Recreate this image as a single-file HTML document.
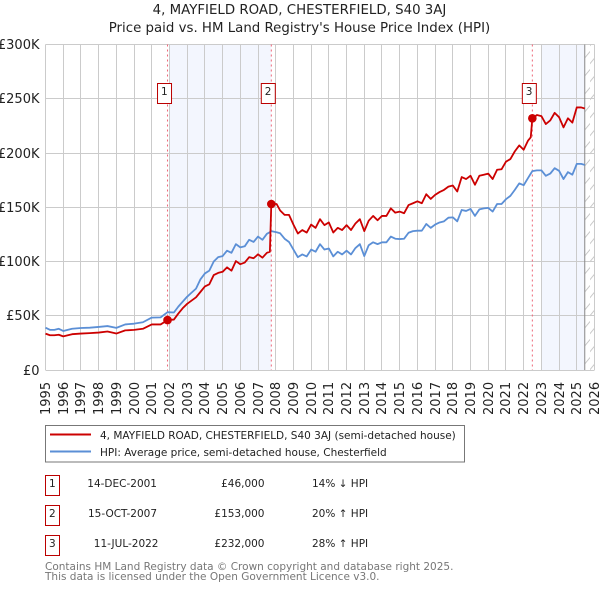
<!DOCTYPE html>
<html lang="en">
<head>
<meta charset="utf-8">
<title>4, MAYFIELD ROAD, CHESTERFIELD, S40 3AJ</title>
<style>
html,body{margin:0;padding:0;background:#fff;}
body{width:600px;height:590px;overflow:hidden;}
svg{display:block;font-family:"DejaVu Sans","Liberation Sans",sans-serif;}
</style>
</head>
<body>
<svg id="chart" xmlns="http://www.w3.org/2000/svg" width="600" height="590" viewBox="0 0 600 590">
  <defs>
    <pattern id="hatch" patternUnits="userSpaceOnUse" width="10" height="18">
      <path d="M-1 10.8 L11 -3.6 M-1 28.8 L11 14.4" stroke="#c8c8c8" stroke-width="1" fill="none"/>
    </pattern>
  </defs>
  <text x="299.5" y="14" text-anchor="middle" font-size="13.35" fill="#222">4, MAYFIELD ROAD, CHESTERFIELD, S40 3AJ</text>
  <text x="299.5" y="32" text-anchor="middle" font-size="13.35" fill="#222">Price paid vs. HM Land Registry's House Price Index (HPI)</text>
  <g id="plot"></g>

  <g>
    <rect x="45.5" y="425.5" width="419" height="36.5" fill="#fff" stroke="#777" stroke-width="1"/>
    <line x1="50" x2="91" y1="434.5" y2="434.5" stroke="#cc0000" stroke-width="2"/>
    <text x="100" y="439" font-size="10.5" fill="#222">4, MAYFIELD ROAD, CHESTERFIELD, S40 3AJ (semi-detached house)</text>
    <line x1="50" x2="91" y1="451.5" y2="451.5" stroke="#5b8fd6" stroke-width="2"/>
    <text x="100" y="456" font-size="10.5" fill="#222">HPI: Average price, semi-detached house, Chesterfield</text>
  </g>

  <g font-size="10.5" fill="#222">
    <rect x="45.5" y="475.5" width="14" height="20" fill="#fff" stroke="#bb0000"/>
    <text x="52.3" y="487" text-anchor="middle">1</text>
    <text x="157" y="487" text-anchor="end">14-DEC-2001</text>
    <text x="264.5" y="487" text-anchor="end">£46,000</text>
    <text x="312" y="487">14% ↓ HPI</text>

    <rect x="45.5" y="505.5" width="14" height="20" fill="#fff" stroke="#bb0000"/>
    <text x="52.3" y="517" text-anchor="middle">2</text>
    <text x="157" y="517" text-anchor="end">15-OCT-2007</text>
    <text x="264.5" y="517" text-anchor="end">£153,000</text>
    <text x="312" y="517">20% ↑ HPI</text>

    <rect x="45.5" y="535.5" width="14" height="20" fill="#fff" stroke="#bb0000"/>
    <text x="52.3" y="547" text-anchor="middle">3</text>
    <text x="158.5" y="547" text-anchor="end">11-JUL-2022</text>
    <text x="264.5" y="547" text-anchor="end">£232,000</text>
    <text x="312" y="547">28% ↑ HPI</text>
  </g>

  <text x="45" y="570" font-size="10.5" fill="#777">Contains HM Land Registry data © Crown copyright and database right 2025.</text>
  <text x="45" y="580" font-size="10.5" fill="#777">This data is licensed under the Open Government Licence v3.0.</text>
</svg>

<script>
const yearTicks = [1995,1996,1997,1998,1999,2000,2001,2002,2003,2004,2005,2006,2007,2008,2009,2010,2011,2012,2013,2014,2015,2016,2017,2018,2019,2020,2021,2022,2023,2024,2025,2026];
const valueTicks = [0,50,100,150,200,250,300];
const valueTickLabels = ['£0','£50K','£100K','£150K','£200K','£250K','£300K'];

const dates = [1995,1995.25,1995.5,1995.75,1996,1996.5,1997,1997.5,1998,1998.5,1999,1999.5,2000,2000.5,2001,2001.5,2001.89,
2002.25,2002.5,2002.75,2003,2003.25,2003.5,2003.75,2004,2004.25,2004.5,2004.75,2005,2005.25,2005.5,2005.75,2006,2006.25,2006.5,2006.75,2007,2007.25,2007.5,2007.67,2007.75,
2008.05,2008.25,2008.5,2008.75,2009,2009.25,2009.5,2009.75,2010,2010.25,2010.5,2010.75,2011,2011.25,2011.5,2011.75,2012,2012.25,2012.5,2012.75,2013,2013.25,2013.5,2013.75,2014,2014.25,2014.5,2014.75,
2015,2015.25,2015.5,2015.75,2016,2016.25,2016.5,2016.75,2017,2017.25,2017.5,2017.75,2018,2018.25,2018.5,2018.75,2019,2019.25,2019.5,2019.75,2020,2020.25,2020.5,2020.75,2021,2021.25,2021.5,2021.75,
2022,2022.25,2022.4,2022.49,2022.75,2023,2023.25,2023.5,2023.75,2024,2024.25,2024.5,2024.75,2025,2025.25,2025.45];

const hpiValues = [39,37,37,38,36,38,38.7,39,39.7,40.5,38.8,42,42.7,44,48.3,48.5,53.3,
53,58.4,63,67.6,71.3,75,83.6,89,91.6,100,104,105,110,108,116,113,114,120,118,123,120,125.5,127,128,
127,126,121,118,111,104,106.5,104.7,111,109,116,111,112,104.7,109,106.5,110,106.5,112.4,116,105,115,117.7,116,117.7,117.7,123,121,
120.7,121,126.5,128,128.4,128.4,134.6,131,134,136,137,140.4,140.7,137,147.5,146.6,148.5,142,148,149,149.4,146,153,153,157.4,160.5,166,172,
170.3,177,181,183.3,184,184,179,181,186,183.6,176,182.4,180,190,190,189];

const paidValues = [33.5,32,32,32.5,31,33,33.6,34,34.5,35.5,33.6,36.5,37,38,42,42,46,
46.5,52,57,61,64,67,72,77,79,87.5,89.5,90.5,94.6,91.5,100.4,97.5,99,104,103,106.6,103.5,108,109,153,
153,147,143,143,134,125.8,129,126.7,134,131,139,133.5,136,126.7,131,129,133.5,129,135,139,128,137.6,142,138,142,142,149,145,
146,144.5,152,153.7,155.5,153.7,162,157.7,161.4,164,166,169,170,164.5,177.8,176,179,170.7,179,180,181,176,184.6,185,192,194.4,201.5,207,
203,211.5,214.5,232,235,234,226.7,230,237,233,223.6,232,228,242,242,241];

const saleDates = [2001.89,2007.75,2022.49];
const salePrices = [46,153,232];
const saleLabels = ['1','2','3'];
const shadedPeriods = [[2002,2007.75],[2023,2025.45]];
const dataEnd = 2025.45;

const NS = 'http://www.w3.org/2000/svg';
const plot = document.getElementById('plot');
const LEFT = 45.5, RIGHT = 594.5, TOP = 44.5, BOTTOM = 370;
const xScale = d => LEFT + (d - 1995) * (RIGHT - LEFT) / (2026 - 1995);
const yScale = v => BOTTOM - v * (BOTTOM - TOP) / 300;

function make(tag, attrs, parent) {
  const el = document.createElementNS(NS, tag);
  for (const k in attrs) el.setAttribute(k, attrs[k]);
  (parent || plot).appendChild(el);
  return el;
}

// shaded ownership periods
shadedPeriods.forEach(p => {
  const band = make('rect', {x: xScale(p[0]), y: TOP, width: xScale(p[1]) - xScale(p[0]), height: BOTTOM - TOP, fill: '#f3f6fe'});
  
  
});

// hatch after end of data
const hatch = make('rect', {x: xScale(dataEnd), y: TOP, width: RIGHT - xScale(dataEnd), height: BOTTOM - TOP, fill: 'url(#hatch)'});



// gridlines and tick labels
yearTicks.forEach(yr => {
  const x = Math.round(xScale(yr) - 0.5) + 0.5;
  const g = make('line', {x1: x, x2: x, y1: TOP, y2: BOTTOM, stroke: '#cbcbcb', 'stroke-width': 1});
  
  
  const t = make('text', {transform: 'translate(' + (x + 4.5) + ',415) rotate(-90)', 'font-size': 13, fill: '#222'});
  
  
  t.textContent = String(yr);
});
valueTicks.forEach((v, i) => {
  const y = Math.round(yScale(v) - 0.5) + 0.5;
  const g = make('line', {x1: LEFT, x2: RIGHT, y1: y, y2: y, stroke: '#cbcbcb', 'stroke-width': 1});
  
  
  const t = make('text', {x: 39.5, y: y + 4.5, 'text-anchor': 'end', 'font-size': 13, fill: '#222'});
  
  
  t.textContent = valueTickLabels[i];
});

// end of data line
const endLine = make('line', {x1: xScale(dataEnd), x2: xScale(dataEnd), y1: TOP, y2: BOTTOM, stroke: '#888', 'stroke-width': 1});



// sale vertical lines
saleDates.forEach(d => {
  const l = make('line', {x1: xScale(d), x2: xScale(d), y1: TOP, y2: BOTTOM, stroke: '#ee6677', 'stroke-width': 1, 'stroke-dasharray': '2 3'});
  
  
});

// series
function linePath(values) {
  return values.map((v, i) => (i ? 'L' : 'M') + xScale(dates[i]).toFixed(2) + ' ' + yScale(v).toFixed(2)).join(' ');
}
const hpiLine = make('path', {d: linePath(hpiValues), fill: 'none', stroke: '#5b8fd6', 'stroke-width': 1.8, 'stroke-linejoin': 'round'});


const paidLine = make('path', {d: linePath(paidValues), fill: 'none', stroke: '#cc0000', 'stroke-width': 1.8, 'stroke-linejoin': 'round'});



// sale points and label boxes
saleDates.forEach((d, i) => {
  const pt = make('circle', {cx: xScale(d), cy: yScale(salePrices[i]), r: 4.3, fill: '#cc0000'});
  
  
  const box = make('rect', {x: xScale(d) - 10, y: 83.5, width: 14, height: 20, fill: '#fff', stroke: '#bb0000', 'stroke-width': 1});
  
  
  const t = make('text', {x: xScale(d) - 3.2, y: 95, 'text-anchor': 'middle', 'font-size': 10.5, fill: '#222'});
  
  
  t.textContent = saleLabels[i];
});
</script>
</body>
</html>
